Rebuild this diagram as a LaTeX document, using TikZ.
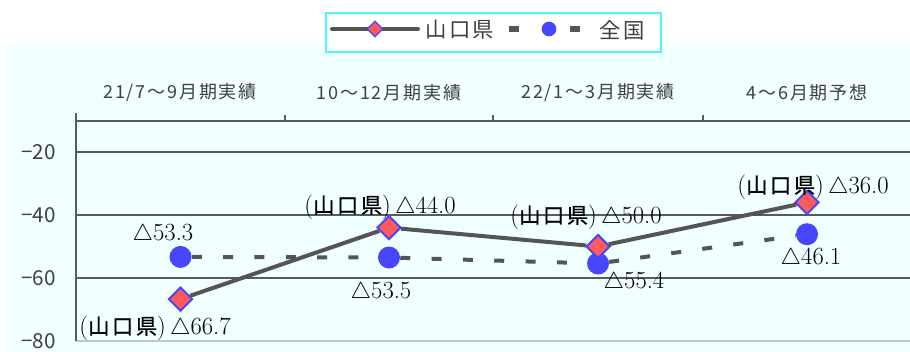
\documentclass[tikz,border=0pt]{standalone}
\usepackage{fontspec}
\newfontfamily\cjk{Noto Sans CJK JP}
\newfontfamily\cjkb[FakeBold=0.7, LetterSpace=12]{Noto Sans CJK JP}
\newfontfamily\cjkl[LetterSpace=10]{Noto Sans CJK JP}
\usetikzlibrary{shapes.geometric}
\definecolor{bg}{RGB}{240,255,255}
\definecolor{frame}{RGB}{70,250,250}
\definecolor{gridc}{RGB}{90,90,90}
\definecolor{axisc}{RGB}{195,200,200}
\definecolor{ser}{RGB}{85,85,85}
\definecolor{R}{RGB}{255,90,90}
\definecolor{Bl}{RGB}{70,70,255}
\definecolor{txt}{RGB}{64,64,64}
\tikzstyle{yam} = [diamond, draw=Bl, fill=R, line width=1.5pt,
minimum size=18pt, inner sep=0pt]
\tikzstyle{zen} = [circle, fill=Bl, minimum size=16.5pt, inner sep=0pt]
\tikzstyle{yline} = [ser, line width=3pt]
\tikzstyle{zline} = [ser, line width=3pt, dash pattern=on 7.5pt off 16pt]
\tikzstyle{gridline} = [gridc, line width=1.5pt]
\tikzstyle{val} = [font=\fontsize{18.5}{22}\selectfont, inner sep=0pt]
\tikzstyle{cat} = [txt, font=\cjkl\fontsize{13.5}{16}\selectfont, inner sep=0pt]
\tikzstyle{ylab} = [txt, font=\cjk\fontsize{15.5}{18}\selectfont, inner sep=0pt, anchor=east]
\newcommand{\pref}{({\cjkb\fontsize{16}{18}\selectfont 山口県})\,}

\begin{document}
\begin{tikzpicture}[
    x=0.75pt, y=-0.75pt, % one unit is one pixel, y grows downwards
  ]
    \useasboundingbox (0,0) rectangle (910,351);
    \fill[bg] (5,45) rectangle (910,351);

    % legend
    \node[draw=frame, fill=white, line width=1.5pt, minimum width=251pt,
          minimum height=29pt] (legend) at (493.5,32.5) {};
    \coordinate (ls) at (332,29);
    \coordinate (le) at (418,29);
    \draw[yline, line cap=round] (ls) -- (le);
    \node[yam, minimum size=12pt, line width=1pt] (lm) at (375,29) {};
    \node[txt, font=\cjkl\fontsize{16}{18}\selectfont] (lt) at (460,30) {山口県};
    \coordinate (zs1) at (509,29);
    \coordinate (ze1) at (519,29);
    \coordinate (zs2) at (570,29);
    \coordinate (ze2) at (580,29);
    \draw[ser, line width=5pt] (zs1) -- (ze1);
    \draw[ser, line width=5pt] (zs2) -- (ze2);
    \node[zen, minimum size=11pt] (lc) at (549,29) {};
    \node[txt, font=\cjkl\fontsize{16}{18}\selectfont] (lz) at (622,30) {全国};

    % axes and grid
    \coordinate (o) at (76,341);
    \coordinate (t) at (76,113);
    \draw[gridline] (76,120.5) -- (910,120.5);
    \draw[gridline] (76,152) -- (910,152);
    \draw[gridline] (76,215) -- (910,215);
    \draw[gridline] (76,278) -- (910,278);
    \draw[axisc, line width=1.5pt] (o) -- (910,341);
    \draw[gridline] (o) -- (t);
    \draw[gridc, line width=1pt] (285,115) -- (285,120.5);
    \draw[gridc, line width=1pt] (493,115) -- (493,120.5);
    \draw[gridc, line width=1pt] (703,115) -- (703,120.5);

    \node[ylab] (m20) at (56,152) {−20};
    \node[ylab] (m40) at (56,215) {−40};
    \node[ylab] (m60) at (56,278) {−60};
    \node[ylab] (m80) at (56,341) {−80};

    \node[cat] (c1) at (180,93) {21/7～9月期実績};
    \node[cat] (c2) at (389,93) {10～12月期実績};
    \node[cat] (c3) at (598,93) {22/1～3月期実績};
    \node[cat] (c4) at (807,93) {4～6月期予想};

    % series
    \node[zen] (z1) at (180.5,256.9) {};
    \node[zen] (z2) at (389,257.5) {};
    \node[zen] (z3) at (598,263.5) {};
    \node[zen] (z4) at (807,234.2) {};
    \draw[zline] (z1) -- (z2);
    \draw[zline] (z2) -- (z3);
    \draw[zline] (z3) -- (z4);

    \node[yam] (y1) at (180.5,299.1) {};
    \node[yam] (y2) at (389,227.6) {};
    \node[yam] (y3) at (598,246.5) {};
    \node[yam] (y4) at (807,202.4) {};
    \draw[yline] (y1) -- (y2);
    \draw[yline] (y2) -- (y3);
    \draw[yline] (y3) -- (y4);

    % data labels
    \node[val] (v1) at (155,328) {\pref$\triangle$66.7};
    \node[val] (v2) at (380,207) {\pref$\triangle$44.0};
    \node[val] (v3) at (586,217) {\pref$\triangle$50.0};
    \node[val] (v4) at (813,187) {\pref$\triangle$36.0};
    \node[val] (w1) at (163,235) {$\triangle$53.3};
    \node[val] (w2) at (381,293) {$\triangle$53.5};
    \node[val] (w3) at (634,282) {$\triangle$55.4};
    \node[val] (w4) at (811,258) {$\triangle$46.1};
  \end{tikzpicture}
\end{document}
